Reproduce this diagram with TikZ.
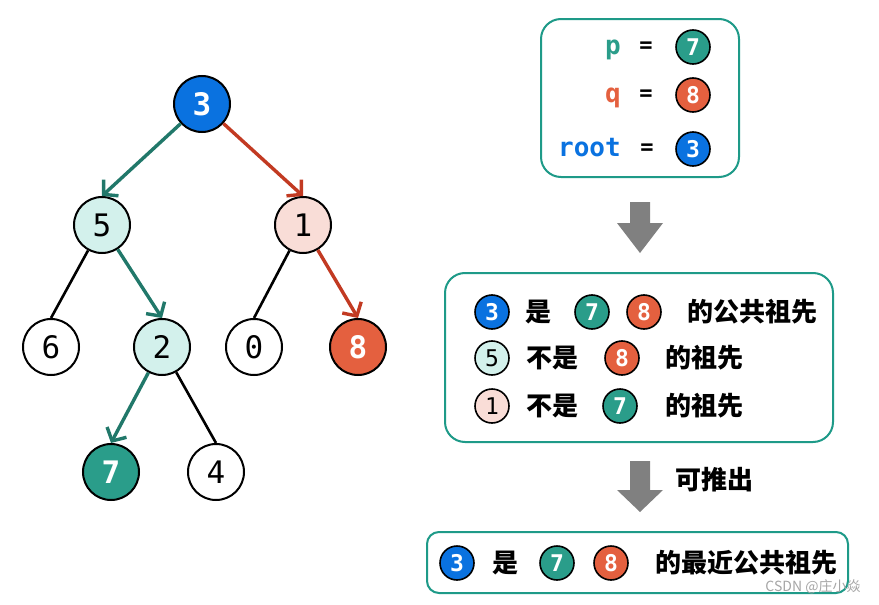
\documentclass[tikz,border=0pt]{standalone}
\usepackage{fontspec}
\setmonofont{DejaVu Sans Mono}
\newfontfamily\cjk{Noto Sans CJK SC}
\usetikzlibrary{arrows.meta}
\definecolor{rootblue}{HTML}{0A72E0}
\definecolor{pgreen}{HTML}{2A9D8A}
\definecolor{qred}{HTML}{E4603F}
\definecolor{mint}{HTML}{D3F1EC}
\definecolor{blush}{HTML}{F9DDD7}
\definecolor{pathgreen}{HTML}{21786A}
\definecolor{pathred}{HTML}{C23A22}
\definecolor{boxline}{HTML}{1E9A88}
\definecolor{fatgray}{HTML}{808080}
\tikzset{treenode/.style={circle, draw, line width=2pt, minimum size=56, inner sep=0, font=\fontsize{31}{31}\selectfont\ttfamily},
         hot/.style={text=white, font=\fontsize{31}{31}\selectfont\ttfamily\bfseries},
         ball/.style={circle, draw, line width=1.6pt, minimum size=34, inner sep=0, text=white, font=\fontsize{23}{23}\selectfont\ttfamily\bfseries},
         plainball/.style={ball, text=black, font=\fontsize{23}{23}\selectfont\ttfamily},
         hz/.style={inner sep=0, font=\fontsize{26}{26}\selectfont\cjk\bfseries},
         codeword/.style={inner sep=0, anchor=base east, font=\fontsize{26}{26}\selectfont\ttfamily\bfseries},
         eqsign/.style={inner sep=0, font=\fontsize{22}{22}\selectfont\ttfamily\bfseries},
         pathedge/.style={line width=3.4pt, -{Straight Barb[length=10pt, width=22pt]}},
         treeline/.style={line width=2.6pt},
         infobox/.style={draw=boxline, line width=2pt, rounded corners=20pt, inner sep=0}
        }
\begin{document}
\begin{tikzpicture}[x=1pt, y=-1pt]
        \fill [white] (0,0) rectangle (879,605);
        \useasboundingbox (0,0) rectangle (879,605);
        \node [treenode, fill=rootblue, hot] (n3) at (202,104) {3};
        \node [treenode, fill=mint] (n5) at (102,225) {5};
        \node [treenode, fill=blush] (n1) at (303,225) {1};
        \node [treenode] (n6) at (51,347) {6};
        \node [treenode, fill=mint] (n2) at (162,347) {2};
        \node [treenode] (n0) at (254,347) {0};
        \node [treenode, fill=qred, hot] (n8) at (358,347) {8};
        \node [treenode, fill=pgreen, hot] (n7) at (111,472) {7};
        \node [treenode] (n4) at (216,472) {4};
        \draw [pathedge, pathgreen] (n3) -- (n5.north);
        \draw [pathedge, pathred] (n3) -- (n1.north);
        \draw [treeline] (n5) -- (n6.north);
        \draw [pathedge, pathgreen] (n5) -- (n2.north);
        \draw [treeline] (n1) -- (n0.north);
        \draw [pathedge, pathred] (n1) -- (n8.north);
        \draw [pathedge, pathgreen] (n2) -- (n7.north);
        \draw [treeline] (n2) -- (n4.north);
        \node [infobox, minimum width=198, minimum height=158] (varbox) at (640,98) {};
        \node [codeword, text=pgreen] (pname) at (621,54) {p};
        \node [codeword, text=qred] (qname) at (621,102) {q};
        \node [codeword, text=rootblue] (rootname) at (621,156) {root};
        \node [eqsign] (peq) at (646,47) {=};
        \node [eqsign] (qeq) at (646,95) {=};
        \node [eqsign] (rooteq) at (647,149) {=};
        \node [ball, fill=pgreen] (pball) at (693,47) {7};
        \node [ball, fill=qred] (qball) at (693,95) {8};
        \node [ball, fill=rootblue] (rootball) at (693,149) {3};
        \fill [fatgray, shift={(640,202)}] (-10,0) -- (10,0) -- (10,21) -- (23,21) -- (0,51) -- (-23,21) -- (-10,21) -- cycle;
        \node [infobox, minimum width=388, minimum height=169] (factbox) at (639,357.5) {};
        \node [ball, fill=rootblue] (fa3) at (492,312) {3};
        \node [hz] (fashi) at (538,312) {是};
        \node [ball, fill=pgreen] (fa7) at (592,312) {7};
        \node [ball, fill=qred] (fa8) at (644,312) {8};
        \node [hz] (fatail) at (752,312) {的公共祖先};
        \node [plainball, fill=mint] (fb5) at (492,358) {5};
        \node [hz] (fbnot) at (552,358) {不是};
        \node [ball, fill=qred] (fb8) at (622,358) {8};
        \node [hz] (fbtail) at (704,358) {的祖先};
        \node [plainball, fill=blush] (fc1) at (492,406) {1};
        \node [hz] (fcnot) at (552,406) {不是};
        \node [ball, fill=pgreen] (fc7) at (620,406) {7};
        \node [hz] (fctail) at (704,406) {的祖先};
        \fill [fatgray, shift={(640,461)}] (-10,0) -- (10,0) -- (10,29) -- (23,29) -- (0,51) -- (-23,29) -- (-10,29) -- cycle;
        \node [hz] (hence) at (714,480) {可推出};
        \node [infobox, rounded corners=12pt, minimum width=421, minimum height=61] (resbox) at (637.5,562.5) {};
        \node [ball, fill=rootblue] (res3) at (457,563) {3};
        \node [hz] (resshi) at (505,563) {是};
        \node [ball, fill=pgreen] (res7) at (557,563) {7};
        \node [ball, fill=qred] (res8) at (611,563) {8};
        \node [hz] (restail) at (746,563) {的最近公共祖先};
        \node [inner sep=0, text=black!35, font=\fontsize{14}{14}\selectfont\cjk] (mark) at (813,587) {CSDN @庄小焱};
      \end{tikzpicture}
\end{document}
